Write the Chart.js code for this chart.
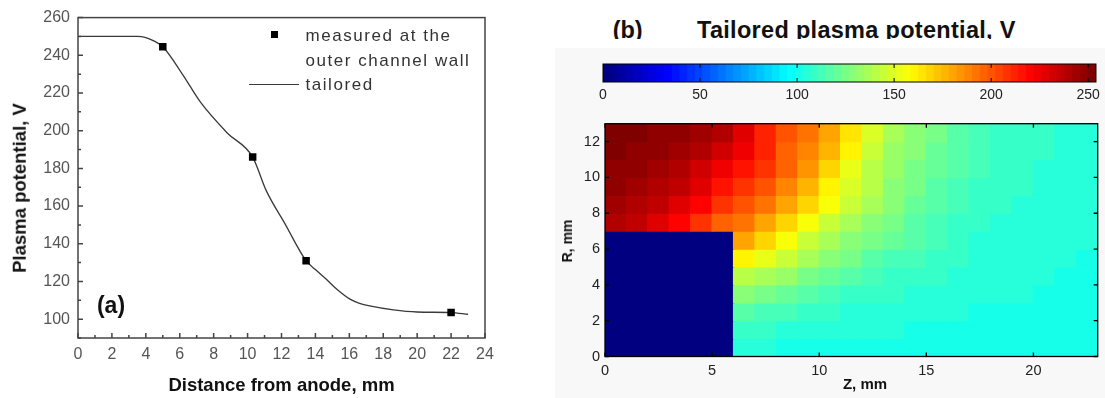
<!DOCTYPE html>
<html>
<head>
<meta charset="utf-8">
<script src="https://cdn.jsdelivr.net/npm/chart.js@4.4.1/dist/chart.umd.min.js"></script>
<style>
  body { margin: 0; width: 1105px; height: 398px; position: relative; overflow: hidden; background: #fff;
         font-family: "Liberation Sans", Arial, sans-serif; }
  canvas { position: absolute; }
  .t { position: absolute; white-space: nowrap; line-height: 1; }
  .c { transform: translate(-50%, -50%); }
  .b { font-weight: bold; color: #111; }
  .leg { font-size: 17px; letter-spacing: 1.55px; color: #333; transform: translateY(-50%); }
</style>
</head>
<body>
<div style="position:absolute;left:555px;top:48px;width:550px;height:350px;background:#f8f8f8"></div>

<canvas id="lineChart" width="540" height="398" style="left:0;top:0"></canvas>
<canvas id="cbarChart" width="565" height="60" style="left:540px;top:50px"></canvas>
<canvas id="mapChart" width="565" height="288" style="left:540px;top:110px"></canvas>

<!-- panel (a) texts -->
<div class="t c b" style="left:19.5px;top:188px;font-size:18.5px;transform:translate(-50%,-50%) rotate(-90deg)">Plasma potential, V</div>
<div class="t c b" style="left:281.5px;top:385px;font-size:18.5px">Distance from anode, mm</div>
<div class="t c b" style="left:111px;top:305px;font-size:23px">(a)</div>
<div style="position:absolute;left:270.5px;top:30.5px;width:7.5px;height:7.5px;background:#000"></div>
<div class="t leg" style="left:305.5px;top:34.5px">measured at the</div>
<div class="t leg" style="left:305.5px;top:60px">outer channel wall</div>
<div style="position:absolute;left:249px;top:83.5px;width:50px;height:1.3px;background:#3a3a3a"></div>
<div class="t leg" style="left:305.5px;top:83.7px">tailored</div>

<!-- panel (b) texts -->
<div style="position:absolute;left:560px;top:0;width:540px;height:39px;overflow:hidden">
  <div class="t b" style="left:52.7px;top:18.6px;font-size:23.5px">(b)</div>
  <div class="t b" style="left:137px;top:18.6px;font-size:23.5px;letter-spacing:0.3px">Tailored plasma potential, V</div>
</div>
<div class="t c b" style="left:567px;top:241px;font-size:14px;transform:translate(-50%,-50%) rotate(-90deg)">R, mm</div>
<div class="t c b" style="left:865px;top:383px;font-size:15px">Z, mm</div>

<script>
// ---- panel (a): plasma potential along the outer channel wall ----
const distance = [0, 3.5, 4.0, 4.5, 5.0, 6.2, 7.2, 8.8, 10.3, 11.1, 12.2, 13.45, 14.0, 14.66, 15.3, 16.04, 16.6, 17.2, 18.6, 20.0, 22.0, 23.0];
const tailored = [250, 250, 249.4, 247.5, 244.5, 229.4, 215.4, 198.8, 186, 168.2, 150.7, 131, 126.3, 121, 115.6, 110.6, 108.4, 107, 104.9, 103.8, 103.5, 102.6];
const measuredZ = [5.0, 10.3, 13.45, 22.0];
const measuredV = [244.5, 186, 131, 103.5];

const distTicks = [0, 2, 4, 6, 8, 10, 12, 14, 16, 18, 20, 22, 24];
const distMinor = [1, 3, 5, 7, 9, 11, 13, 15, 17, 19, 21, 23];
const potTicks = [100, 120, 140, 160, 180, 200, 220, 240, 260];
const potMinor = [90, 110, 130, 150, 170, 190, 210, 230, 250];

// ---- panel (b): 2D map, 1 mm cells (z = 0..23 mm, r = 0..13 mm) ----
const zCells = [0.5, 1.5, 2.5, 3.5, 4.5, 5.5, 6.5, 7.5, 8.5, 9.5, 10.5, 11.5, 12.5, 13.5, 14.5, 15.5, 16.5, 17.5, 18.5, 19.5, 20.5, 21.5, 22.5];
const rCells = [12.5, 11.5, 10.5, 9.5, 8.5, 7.5, 6.5, 5.5, 4.5, 3.5, 2.5, 1.5, 0.5];
const vR12 = [252, 252, 251, 249, 245, 240, 228, 214, 200, 192, 180, 164, 148, 137, 129, 123, 118, 113, 110, 108, 107, 106, 106];
const vR11 = [252, 251, 249, 246, 241, 233, 224, 212, 199, 190, 176, 160, 146, 135, 127, 121, 116, 112, 110, 108, 107, 106, 105];
const vR10 = [251, 249, 246, 242, 235, 226, 218, 209, 197, 185, 170, 155, 143, 133, 125, 120, 115, 111, 109, 107, 106, 105, 105];
const vR9  = [249, 246, 242, 236, 228, 218, 210, 202, 190, 177, 162, 150, 140, 131, 123, 118, 114, 110, 108, 107, 106, 105, 104];
const vR8  = [246, 242, 237, 230, 220, 209, 202, 194, 183, 170, 157, 146, 137, 129, 121, 116, 112, 109, 107, 106, 105, 104, 104];
const vR7  = [242, 237, 230, 222, 210, 198, 192, 182, 170, 158, 147, 138, 131, 125, 118, 114, 110, 108, 106, 105, 104, 104, 103];
const vR6  = [0, 0, 0, 0, 0, 0, 183, 170, 157, 146, 137, 130, 124, 119, 115, 111, 108, 106, 105, 104, 104, 103, 103];
const vR5  = [0, 0, 0, 0, 0, 0, 162, 155, 145, 136, 129, 123, 118, 114, 111, 109, 107, 105, 104, 104, 103, 103, 102];
const vR4  = [0, 0, 0, 0, 0, 0, 142, 139, 132, 125, 120, 116, 113, 110, 108, 107, 105, 104, 104, 103, 103, 102, 102];
const vR3  = [0, 0, 0, 0, 0, 0, 127, 124, 120, 116, 113, 110, 108, 107, 106, 105, 104, 103, 103, 103, 102, 102, 102];
const vR2  = [0, 0, 0, 0, 0, 0, 116, 114, 111, 109, 107, 106, 105, 104, 104, 103, 103, 102, 102, 102, 102, 101, 101];
const vR1  = [0, 0, 0, 0, 0, 0, 108, 107, 106, 105, 104, 103, 103, 103, 102, 102, 102, 101, 101, 101, 101, 101, 101];
const vR0  = [0, 0, 0, 0, 0, 0, 103, 103, 102, 102, 102, 102, 101, 101, 101, 101, 101, 101, 100, 100, 100, 100, 100];
const potentialRows = [vR12, vR11, vR10, vR9, vR8, vR7, vR6, vR5, vR4, vR3, vR2, vR1, vR0];

const zTicks = [0, 5, 10, 15, 20];
const rTicks = [0, 2, 4, 6, 8, 10, 12];
const cbarTicks = [0, 50, 100, 150, 200, 250];
const cbarMin = 0, cbarMax = 254, cbarLevels = 64;

Chart.defaults.font.family = '"Liberation Sans", Arial, sans-serif';

// matlab-like jet colormap, 64 steps
function jet(v) {
  const f = Math.max(0, Math.min(1, (v - cbarMin) / (cbarMax - cbarMin)));
  const t = Math.round(f * (cbarLevels - 1)) / (cbarLevels - 1);
  const c = d => Math.round(255 * Math.max(0, Math.min(1, 1.5 - Math.abs(4 * t - d))));
  return `rgb(${c(3)},${c(2)},${c(1)})`;
}

// box round the plot area + inward tick marks
const frameTicks = {
  id: 'frameTicks',
  afterDatasetsDraw(chart, args, o) {
    const { ctx, chartArea: a } = chart;
    const x = chart.scales.x, y = chart.scales.y;
    ctx.save();
    ctx.strokeStyle = o.color;
    ctx.lineWidth = o.lineWidth;
    ctx.beginPath();
    const xs = o.xSides || [], ys = o.ySides || [];
    const hx = (vals, len) => vals.forEach(v => {
      const px = x.getPixelForValue(v);
      if (xs.includes('bottom')) { ctx.moveTo(px, a.bottom); ctx.lineTo(px, a.bottom - len); }
      if (xs.includes('top')) { ctx.moveTo(px, a.top); ctx.lineTo(px, a.top + len); }
    });
    const vy = (vals, len) => vals.forEach(v => {
      const py = y.getPixelForValue(v);
      if (ys.includes('left')) { ctx.moveTo(a.left, py); ctx.lineTo(a.left + len, py); }
      if (ys.includes('right')) { ctx.moveTo(a.right, py); ctx.lineTo(a.right - len, py); }
    });
    hx(o.xMajor || [], o.major);
    hx(o.xMinor || [], o.minor);
    vy(o.yMajor || [], o.major);
    vy(o.yMinor || [], o.minor);
    ctx.stroke();
    ctx.strokeRect(a.left, a.top, a.width, a.height);
    ctx.restore();
  }
};

const setTicks = vals => scale => { scale.ticks = vals.map(v => ({ value: v })); };

// ---- chart (a) ----
new Chart(document.getElementById('lineChart'), {
  type: 'line',
  data: {
    datasets: [
      {
        label: 'measured at the outer channel wall',
        data: measuredZ.map((x, i) => ({ x, y: measuredV[i] })),
        showLine: false,
        pointStyle: 'rect',
        pointRadius: 5.3,
        backgroundColor: '#000',
        borderColor: '#000',
        borderWidth: 0,
        order: 1
      },
      {
        label: 'tailored',
        data: distance.map((x, i) => ({ x, y: tailored[i] })),
        borderColor: '#3a3a3a',
        borderWidth: 1.3,
        pointRadius: 0,
        cubicInterpolationMode: 'monotone',
        order: 2
      }
    ]
  },
  options: {
    responsive: false,
    animation: false,
    events: [],
    layout: { padding: { left: 0, top: 15, right: 55, bottom: 0 } },
    plugins: {
      legend: { display: false },
      tooltip: { enabled: false },
      frameTicks: {
        color: '#444', lineWidth: 1.5, major: 5, minor: 3,
        xMajor: distTicks, xMinor: distMinor, yMajor: potTicks, yMinor: potMinor,
        xSides: ['bottom'], ySides: ['left']
      }
    },
    scales: {
      x: {
        type: 'linear', min: 0, max: 24,
        afterBuildTicks: setTicks(distTicks),
        afterFit: s => { s.height = 60; },
        grid: { display: false, drawTicks: false },
        border: { display: false },
        ticks: { padding: 7, color: '#555', font: { size: 16 }, maxRotation: 0, autoSkip: false }
      },
      y: {
        type: 'linear', min: 90, max: 260,
        afterBuildTicks: setTicks(potTicks),
        afterFit: s => { s.width = 78; },
        grid: { display: false, drawTicks: false },
        border: { display: false },
        ticks: { padding: 8, color: '#555', font: { size: 16 }, autoSkip: false }
      }
    }
  },
  plugins: [frameTicks]
});

// ---- colour bar ----
const cbarStep = (cbarMax - cbarMin) / cbarLevels;
const cbarCenters = Array.from({ length: cbarLevels }, (_, k) => cbarMin + (k + 0.5) * cbarStep);
new Chart(document.getElementById('cbarChart'), {
  type: 'bar',
  data: {
    datasets: [{
      data: cbarCenters.map(x => ({ x, y: 1 })),
      backgroundColor: cbarCenters.map(jet),
      borderWidth: 0,
      barPercentage: 1,
      categoryPercentage: 1,
      inflateAmount: 0.6
    }]
  },
  options: {
    responsive: false,
    animation: false,
    events: [],
    layout: { padding: { left: 63, top: 14, right: 7, bottom: 0 } },
    plugins: {
      legend: { display: false },
      tooltip: { enabled: false },
      frameTicks: {
        color: '#000', lineWidth: 1, major: 4, minor: 0,
        xMajor: cbarTicks.slice(1), xSides: ['bottom', 'top']
      }
    },
    scales: {
      x: {
        type: 'linear', min: cbarMin, max: cbarMax, offset: false,
        afterBuildTicks: setTicks(cbarTicks),
        afterFit: s => { s.height = 28; },
        grid: { display: false, drawTicks: false, offset: false },
        border: { display: false },
        ticks: { padding: 5, color: '#222', font: { size: 14 }, maxRotation: 0, autoSkip: false }
      },
      y: { display: false, min: 0, max: 1 }
    }
  },
  plugins: [frameTicks]
});

// ---- map (b) ----
new Chart(document.getElementById('mapChart'), {
  type: 'bar',
  data: {
    datasets: rCells.map((r, j) => ({
      data: zCells.map(z => ({ x: z, y: [r - 0.5, r + 0.5] })),
      backgroundColor: potentialRows[j].map(jet),
      borderWidth: 0,
      barPercentage: 1,
      categoryPercentage: 1,
      grouped: false,
      inflateAmount: 0.6
    }))
  },
  options: {
    responsive: false,
    animation: false,
    events: [],
    layout: { padding: { left: 0, top: 8.3, right: 7.3, bottom: 0 } },
    plugins: {
      legend: { display: false },
      tooltip: { enabled: false },
      frameTicks: {
        color: '#000', lineWidth: 1.3, major: 4, minor: 0,
        xMajor: zTicks, yMajor: rTicks,
        xSides: ['bottom', 'top'], ySides: ['left', 'right']
      }
    },
    scales: {
      x: {
        type: 'linear', min: 0, max: 23, offset: false,
        afterBuildTicks: setTicks(zTicks),
        afterFit: s => { s.height = 41.5; },
        grid: { display: false, drawTicks: false, offset: false },
        border: { display: false },
        ticks: { padding: 6, color: '#222', font: { size: 14.5 }, maxRotation: 0, autoSkip: false }
      },
      y: {
        type: 'linear', min: 0, max: 13,
        afterBuildTicks: setTicks(rTicks),
        afterFit: s => { s.width = 65; },
        grid: { display: false, drawTicks: false },
        border: { display: false },
        ticks: { padding: 5, color: '#222', font: { size: 14.5 }, autoSkip: false }
      }
    }
  },
  plugins: [frameTicks]
});
</script>
</body>
</html>
